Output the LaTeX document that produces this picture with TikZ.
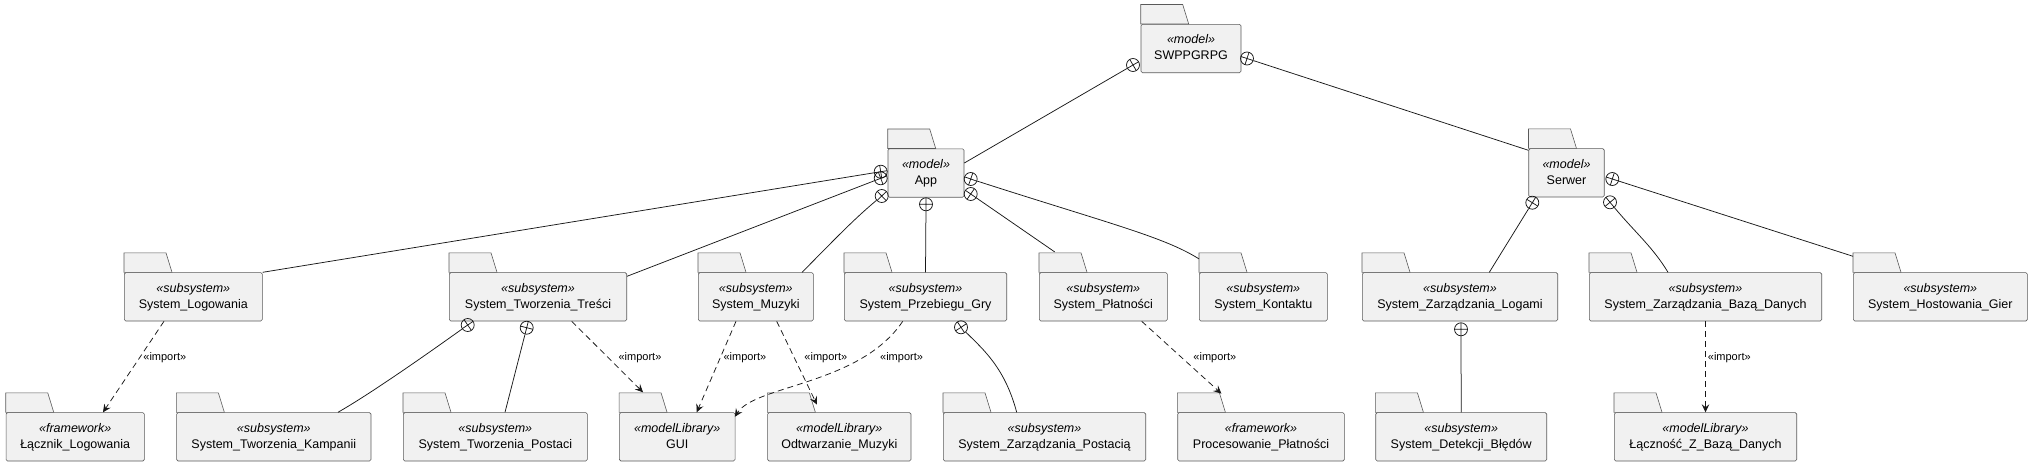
\documentclass[tikz,border=0pt]{standalone}
\usepackage{fontspec}
\setmainfont{Liberation Sans}
\usetikzlibrary{positioning,arrows.meta,calc}

\definecolor{pkgfill}{HTML}{F1F1F1}
\definecolor{pkgline}{HTML}{5A5A5A}
\definecolor{wire}{HTML}{181818}

\tikzset{
pkg/.style={draw=pkgline,fill=pkgfill,line width=.6pt,rounded corners=1.5pt,minimum height=48.4pt,inner sep=0pt,align=center,font=\fontsize{12.5}{16}\selectfont},
tab/.style={draw=pkgline,fill=pkgfill,line width=.6pt},
nest/.style={draw=wire,circle,minimum size=13pt,inner sep=0pt,line width=.75pt},
own/.style={draw=wire,line width=.75pt},
imp/.style={draw=wire,line width=.75pt,dash pattern=on 6pt off 4pt,-{Stealth[length=8pt,width=7.5pt,inset=3pt]}},
implabel/.style={right,inner sep=0pt,font=\fontsize{11}{13}\selectfont}
}
\newcommand{\stereo}[2]{\textit{«#1»}\strut\\#2\strut}
\newcommand{\pkgtab}[1]{\draw[tab](#1.north west)--++(0,-19.5)--++(42,0)--++(6,19.5)--cycle;}
\newcommand{\nestmark}[2]{\draw[own]($(#1)!6.5pt!(#2)$)--($(#1)!6.5pt!180:(#2)$)($(#1)!6.5pt!90:(#2)$)--($(#1)!6.5pt!-90:(#2)$);}

\begin{document}
\begin{tikzpicture}[x=1pt,y=-1pt]
\useasboundingbox(0,0)rectangle(2032,467);

\node[pkg,minimum width=100pt](swp)at(1191,48.5){\stereo{model}{SWPPGRPG}};
\node[pkg,minimum width=76pt](app)at(926,173){\stereo{model}{App}};
\node[pkg,minimum width=75.5pt](srv)at(1566.5,172.8){\stereo{model}{Serwer}};

\node[pkg,minimum width=138pt](logw)at(193.3,296.8){\stereo{subsystem}{System\_Logowania}};
\node[pkg,minimum width=177.4pt](tresci)at(538,296.8){\stereo{subsystem}{System\_Tworzenia\_Treści}};
\node[pkg,minimum width=115pt](muz)at(755.8,296.8){\stereo{subsystem}{System\_Muzyki}};
\node[pkg,minimum width=162.4pt](gry)at(925.5,296.8){\stereo{subsystem}{System\_Przebiegu\_Gry}};
\node[pkg,minimum width=128pt](plat)at(1103.3,296.8){\stereo{subsystem}{System\_Płatności}};
\node[pkg,minimum width=128pt](kont)at(1263.3,296.8){\stereo{subsystem}{System\_Kontaktu}};
\node[pkg,minimum width=195.4pt](logi)at(1460,296.8){\stereo{subsystem}{System\_Zarządzania\_Logami}};
\node[pkg,minimum width=232.4pt](baza)at(1705.5,296.8){\stereo{subsystem}{System\_Zarządzania\_Bazą\_Danych}};
\node[pkg,minimum width=174pt](host)at(1940.3,296.8){\stereo{subsystem}{System\_Hostowania\_Gier}};

\node[pkg,minimum width=138.3pt](lacz)at(75.2,436.8){\stereo{framework}{Łącznik\_Logowania}};
\node[pkg,minimum width=194.3pt](kamp)at(273.8,436.8){\stereo{subsystem}{System\_Tworzenia\_Kampanii}};
\node[pkg,minimum width=184pt](post)at(495.3,436.8){\stereo{subsystem}{System\_Tworzenia\_Postaci}};
\node[pkg,minimum width=115.7pt](gui)at(677.2,436.8){\stereo{modelLibrary}{GUI}};
\node[pkg,minimum width=143.3pt](odtw)at(839.3,436.8){\stereo{modelLibrary}{Odtwarzanie\_Muzyki}};
\node[pkg,minimum width=202.4pt](posc)at(1044.5,436.8){\stereo{subsystem}{System\_Zarządzania\_Postacią}};
\node[pkg,minimum width=166.6pt](proc)at(1261,436.8){\stereo{framework}{Procesowanie\_Płatności}};
\node[pkg,minimum width=171pt](bled)at(1461.2,436.8){\stereo{subsystem}{System\_Detekcji\_Błędów}};
\node[pkg,minimum width=182.4pt](lbaz)at(1705.5,436.8){\stereo{modelLibrary}{Łączność\_Z\_Bazą\_Danych}};

\foreach \p in {swp,app,srv,logw,tresci,muz,gry,plat,kont,logi,baza,host,lacz,kamp,post,gui,odtw,posc,proc,bled,lbaz}{\pkgtab{\p}}

\node[nest](n1)at(1133,65){};
\node[nest](n2)at(1247,58.5){};
\node[nest](n3)at(880.7,171.7){};
\node[nest](n4)at(880.7,178.3){};
\node[nest](n5)at(881.7,196){};
\node[nest](n6)at(926,204.3){};
\node[nest](n7)at(970.7,194){};
\node[nest](n8)at(970.7,179){};
\node[nest](n9)at(1532.3,202.7){};
\node[nest](n10)at(1610,202.3){};
\node[nest](n11)at(1612.3,179){};
\node[nest](n12)at(467.7,325){};
\node[nest](n13)at(526.7,327.7){};
\node[nest](n14)at(961,327.3){};
\node[nest](n15)at(1461,329.3){};

\coordinate(tApp)at($(app.east)+(0,-10)$);
\coordinate(tSrv)at($(srv.north west)+(0,2)$);
\coordinate(tTresci)at($(tresci.north east)+(0,4)$);
\coordinate(tMuz)at($(muz.north east)+(-11.6,0)$);
\coordinate(tPlat)at($(plat.north west)+(15.7,-20.4)$);
\coordinate(tKont)at($(kont.north west)+(0,-13.4)$);
\coordinate(tLogi)at($(logi.north)+(29.3,0)$);
\coordinate(tBaza)at($(baza.north west)+(79,0)$);
\coordinate(tHost)at($(host.north west)+(0,-16)$);
\coordinate(tKamp)at($(kamp.north east)+(-33.3,0)$);
\coordinate(tPost)at($(post.north)+(9.7,0)$);
\coordinate(tPosc)at($(posc.north)+(-27.8,0)$);

\draw[own](n1)--(tApp);
\draw[own](n2)--(tSrv);
\draw[own](n3)--(logw.north east);
\draw[own](n4)--(tTresci);
\draw[own](n5)..controls+(-30,25)and+(28,-28)..(tMuz);
\draw[own](n6)--(gry.north);
\draw[own](n7)--(tPlat);
\draw[own](n8)..controls+(140,45)and+(-35,-22)..(tKont);
\draw[own](n9)--(tLogi);
\draw[own](n10)..controls+(25,30)and+(-15,-25)..(tBaza);
\draw[own](n11)--(tHost);
\draw[own](n12)..controls+(-35,25)and+(35,-20)..(tKamp);
\draw[own](n13)--(tPost);
\draw[own](n14)..controls+(22,22)and+(-12,-45)..(tPosc);
\draw[own](n15)--(bled.north);

\nestmark{n1}{tApp}
\nestmark{n2}{tSrv}
\nestmark{n3}{logw.north east}
\nestmark{n4}{tTresci}
\nestmark{n5}{tMuz}
\nestmark{n6}{gry.north}
\nestmark{n7}{tPlat}
\nestmark{n8}{tKont}
\nestmark{n9}{tLogi}
\nestmark{n10}{tBaza}
\nestmark{n11}{tHost}
\nestmark{n12}{tKamp}
\nestmark{n13}{tPost}
\nestmark{n14}{tPosc}
\nestmark{n15}{bled.north}

\draw[imp]($(logw.south)+(-29.3,0)$)--node[implabel,pos=.403,xshift=3.6pt]{«import»}($(lacz.north)+(27.8,0)$);
\draw[imp]($(tresci.south)+(33.7,0)$)--node[implabel,pos=.516,xshift=9.7pt]{«import»}($(gui.north west)+(24,-20)$);
\draw[imp]($(muz.south)+(-19.8,0)$)--node[implabel,pos=.403,xshift=3pt]{«import»}($(gui.north)+(19.5,0)$);
\draw[imp]($(muz.south)+(20.9,0)$)--node[implabel,pos=.44,xshift=9.7pt]{«import»}($(odtw.north west)+(49.6,-7.7)$);
\draw[imp]($(gry.south)+(-22.8,0)$)..controls(860,385)and(755,385)..node[implabel,pos=.2,xshift=9pt,yshift=-5.5pt]{«import»}($(gui.east)+(-0.5,-20)$);
\draw[imp]($(plat.south)+(38.4,0)$)--node[implabel,pos=.507,xshift=11pt]{«import»}($(proc.north west)+(44,-18.7)$);
\draw[imp](baza.south)--node[implabel,pos=.403,xshift=2pt]{«import»}(lbaz.north);
\end{tikzpicture}
\end{document}
